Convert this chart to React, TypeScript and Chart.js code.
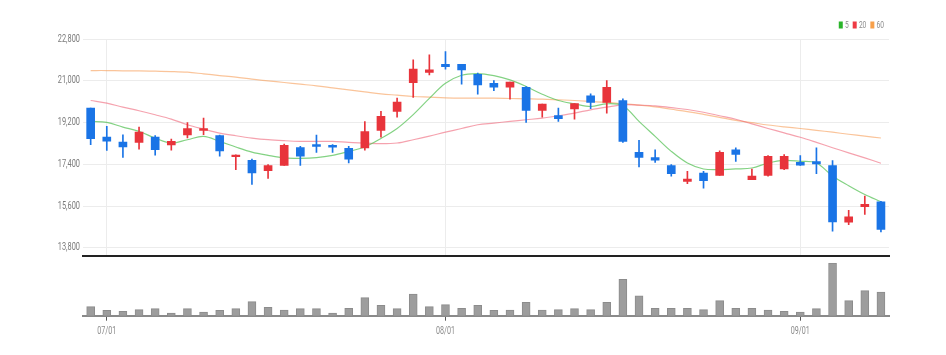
import React, { useEffect, useRef } from "react";
import { Chart, registerables } from "chart.js";
Chart.register(...registerables);

// ---- data ----
const dates = [
  "06/30",
  "07/01", "07/04", "07/05", "07/06", "07/07", "07/08", "07/11", "07/12", "07/13", "07/14", "07/15",
  "07/18", "07/19", "07/20", "07/21", "07/22", "07/25", "07/26", "07/27", "07/28", "07/29",
  "08/01", "08/02", "08/03", "08/04", "08/05", "08/08", "08/09", "08/10", "08/11", "08/12",
  "08/16", "08/17", "08/18", "08/19", "08/22", "08/23", "08/24", "08/25", "08/26", "08/29", "08/30", "08/31",
  "09/01", "09/02", "09/05", "09/06", "09/07", "09/08",
];
const opens = [
  19830, 18580, 18360, 18350, 18580, 18240, 18670, 18870, 18640, 17730,
  17580, 17130, 17360, 18130, 18260, 18220, 18090, 18110, 18870, 19690,
  20930, 21370, 21720, 21720, 21290, 20900, 20730, 20730, 19730, 19510,
  19790, 20360, 20070, 20150, 17920, 17690, 17350, 16670, 17030, 16920,
  18030, 16740, 16920, 17200, 17490, 17520, 17350, 14910, 15570, 15780,
];
const highs = [
  19830, 19040, 18680, 19010, 18640, 18490, 19210, 19400, 18660, 17810,
  17630, 17390, 18280, 18180, 18670, 18250, 18180, 19250, 19690, 20260,
  21910, 22130, 22270, 21720, 21340, 21020, 20950, 20760, 20000, 19830,
  20020, 20450, 21020, 20230, 18440, 18030, 17390, 17100, 17100, 17990,
  18110, 17200, 17780, 17820, 17780, 18110, 17560, 15420, 16030, 15810,
];
const lows = [
  18250, 18000, 17700, 18060, 17800, 18010, 18540, 18680, 17750, 17170,
  16530, 16790, 17360, 17360, 17920, 17920, 17460, 18010, 18570, 19440,
  20290, 21260, 21510, 20860, 20430, 20580, 20220, 19210, 19440, 19250,
  19350, 19800, 19610, 18350, 17290, 17490, 16890, 16570, 16370, 16920,
  17530, 16740, 16890, 17170, 17350, 17000, 14520, 14800, 15240, 14480,
];
const closes = [
  18510, 18400, 18150, 18800, 18030, 18390, 18950, 18950, 17980, 17800,
  17030, 17350, 18220, 17750, 18180, 18140, 17630, 18820, 19470, 20090,
  21510, 21480, 21620, 21480, 20830, 20730, 20950, 19730, 20000, 19370,
  20020, 20070, 20730, 18390, 17700, 17580, 17000, 16770, 16700, 17920,
  17830, 16890, 17750, 17750, 17370, 17420, 14920, 15140, 15680, 14590,
];
const volumes = [
  90000, 54000, 44000, 60000, 70000, 27000, 70000, 37000, 54000, 70000,
  140000, 84000, 57000, 70000, 70000, 27000, 74000, 180000, 104000, 70000,
  217000, 90000, 110000, 74000, 104000, 54000, 57000, 134000, 57000, 60000,
  70000, 60000, 134000, 364000, 198000, 74000, 74000, 74000, 60000, 150000,
  74000, 74000, 57000, 44000, 37000, 70000, 527000, 150000, 250000, 237000,
];
const ma5 = [
  19255, 19211, 19011, 18824, 18537, 18322, 18465, 18609, 18393, 18149,
  17930, 17790, 17680, 17660, 17690, 17790, 17960, 18150, 18520, 18950,
  19550, 20250, 20900, 21250, 21320, 21230, 21049, 20762, 20430, 20159,
  20016, 19900, 20016, 19930, 19255, 18609, 17963, 17460, 17202, 17173,
  17202, 17245, 17460, 17575, 17532, 17460, 16900, 16480, 16100, 15790,
];
const ma20 = [
  20159, 20044, 19872, 19714, 19542, 19355, 19111, 18924, 18752, 18637,
  18537, 18465, 18422, 18393, 18393, 18393, 18350, 18322, 18293, 18322,
  18465, 18620, 18790, 18950, 19111, 19183, 19255, 19326, 19398, 19499,
  19613, 19757, 19872, 19972, 19958, 19930, 19850, 19770, 19650, 19500,
  19350, 19150, 18950, 18760, 18570, 18350, 18120, 17900, 17680, 17450,
];
const ma60 = [
  21451, 21451, 21436, 21436, 21422, 21408, 21379, 21307, 21235, 21164,
  21078, 21006, 20934, 20862, 20790, 20704, 20618, 20532, 20446, 20388,
  20331, 20302, 20274, 20259, 20259, 20259, 20245, 20231, 20216, 20188,
  20159, 20116, 20073, 20016, 19958, 19880, 19780, 19680, 19560, 19430,
  19300, 19200, 19100, 19020, 18950, 18870, 18790, 18700, 18620, 18540,
];
const priceTicks = [13800, 15600, 17400, 19200, 21000, 22800];
const priceMin = 13458;
const priceMax = 22800;
const volumeMax = 530000;
const maNames = ["5", "20", "60"];

// ---- styles ----
const UP = "#e8343b";
const DOWN = "#1a74e6";
const FONT = "Roboto, 'Liberation Sans', sans-serif";
const LEGEND_COLORS = ["#2bb52b", "#ee3a44", "#f7a04b"];
const LINE_COLORS = ["rgba(90,195,90,0.75)", "rgba(238,100,120,0.6)", "rgba(247,165,100,0.65)"];
const Y_WIDTH = 74.6;
const RIGHT_PAD = 49;

const isMonthStart = (i: number) =>
  i > 0 && i < dates.length && dates[i].slice(0, 2) !== dates[i - 1].slice(0, 2);

// draws narrow (horizontally condensed) text, like the reference's condensed face
const narrowText = (ctx: any, text: string, x: number, y: number, sx: number, align: string) => {
  ctx.save();
  ctx.translate(x, y);
  ctx.scale(sx, 1);
  ctx.textAlign = align;
  ctx.textBaseline = "middle";
  ctx.fillText(text, 0, 0);
  ctx.restore();
};

const priceLabelsPlugin = {
  id: "priceLabels",
  afterDraw(chart: any) {
    const ctx = chart.ctx;
    const ys = chart.scales.y;
    ctx.save();
    ctx.font = `10px ${FONT}`;
    ctx.fillStyle = "#7a7a7a";
    priceTicks.forEach((v) => {
      narrowText(ctx, v.toLocaleString("en-US"), ys.right - 2.6, ys.getPixelForValue(v), 0.74, "right");
    });
    // legend
    ctx.font = `8.5px ${FONT}`;
    const sx = 0.78;
    const boxW = 4, boxH = 7, gapText = 2.2, gapItem = 4;
    const widths = maNames.map((n) => ctx.measureText(n).width * sx);
    let total = 0;
    widths.forEach((w, i) => { total += boxW + gapText + w + (i < widths.length - 1 ? gapItem : 0); });
    let x = 876 - total;
    const cy = 17;
    maNames.forEach((n, i) => {
      ctx.fillStyle = LEGEND_COLORS[i];
      ctx.fillRect(x, cy - boxH / 2, boxW, boxH);
      x += boxW + gapText;
      ctx.fillStyle = "#8a8a8a";
      narrowText(ctx, n, x, cy + 0.5, sx, "left");
      x += widths[i] + gapItem;
    });
    ctx.restore();
  },
};

const dateLabelsPlugin = {
  id: "dateLabels",
  afterDraw(chart: any) {
    const ctx = chart.ctx;
    const xs = chart.scales.x;
    ctx.save();
    ctx.font = `10.5px ${FONT}`;
    ctx.fillStyle = "#8a8a8a";
    dates.forEach((d, i) => {
      if (isMonthStart(i)) {
        narrowText(ctx, d, xs.getPixelForValue(i), chart.chartArea.bottom + 16, 0.68, "center");
      }
    });
    ctx.restore();
  },
};

export default function App() {
  const priceRef = useRef<HTMLCanvasElement>(null);
  const volRef = useRef<HTMLCanvasElement>(null);

  useEffect(() => {
    const bodies = opens.map((o, i) => [Math.min(o, closes[i]), Math.max(o, closes[i])]);
    const wicks = lows.map((l, i) => [l, highs[i]]);
    const candleColor = (c: any) => (closes[c.dataIndex] >= opens[c.dataIndex] ? UP : DOWN);
    const maLine = (i: number, data: number[]) => ({
      type: "line",
      label: maNames[i],
      data,
      borderColor: LINE_COLORS[i],
      backgroundColor: LEGEND_COLORS[i],
      borderWidth: 1.2,
      pointRadius: 0,
      tension: 0.35,
      order: 2 + i,
    });

    const priceChart = new Chart(priceRef.current as HTMLCanvasElement, {
      type: "bar",
      data: {
        labels: dates,
        datasets: [
          {
            type: "bar",
            label: "body",
            data: bodies as any,
            backgroundColor: candleColor,
            borderWidth: 0,
            barThickness: 8,
            grouped: false,
            order: 0,
          } as any,
          {
            type: "bar",
            label: "wick",
            data: wicks as any,
            backgroundColor: candleColor,
            borderWidth: 0,
            barThickness: 1,
            grouped: false,
            order: 1,
          } as any,
          maLine(0, ma5) as any,
          maLine(1, ma20) as any,
          maLine(2, ma60) as any,
        ],
      },
      options: {
        responsive: false,
        animation: false,
        events: [],
        layout: { autoPadding: false, padding: { top: 31.3, right: RIGHT_PAD, bottom: 6.3, left: 0 } },
        plugins: { legend: { display: false }, tooltip: { enabled: false } },
        scales: {
          x: {
            type: "category",
            offset: true,
            ticks: { display: false, autoSkip: false },
            grid: {
              offset: false,
              drawTicks: false,
              color: (c: any) => (isMonthStart(c.index) ? "#ececec" : "rgba(0,0,0,0)"),
            },
            border: { display: true, color: "#222", width: 2 },
          },
          y: {
            min: priceMin,
            max: priceMax,
            afterBuildTicks: (s: any) => {
              s.ticks = priceTicks.map((v) => ({ value: v }));
            },
            afterFit: (s: any) => {
              s.width = Y_WIDTH;
            },
            ticks: { display: false },
            grid: { drawTicks: false, color: "#ececec" },
            border: { display: false },
          },
        },
      } as any,
      plugins: [priceLabelsPlugin],
    });

    const volChart = new Chart(volRef.current as HTMLCanvasElement, {
      type: "bar",
      data: {
        labels: dates,
        datasets: [
          {
            label: "volume",
            data: volumes,
            backgroundColor: "#9d9d9d",
            borderColor: "#8c8c8c",
            borderWidth: 1,
            barThickness: 8,
          },
        ],
      },
      options: {
        responsive: false,
        animation: false,
        events: [],
        layout: { autoPadding: false, padding: { top: 0.7, right: RIGHT_PAD, bottom: 27.3, left: Y_WIDTH } },
        plugins: { legend: { display: false }, tooltip: { enabled: false } },
        scales: {
          x: {
            type: "category",
            offset: true,
            ticks: { display: false, autoSkip: false },
            grid: {
              offset: false,
              drawOnChartArea: false,
              drawTicks: true,
              tickLength: 5,
              tickColor: (c: any) => (isMonthStart(c.index) ? "#555" : "rgba(0,0,0,0)"),
            },
            border: { display: true, color: "#8a8a8a", width: 2 },
          },
          y: { display: false, min: 0, max: volumeMax },
        },
      } as any,
      plugins: [dateLabelsPlugin],
    });

    return () => {
      priceChart.destroy();
      volChart.destroy();
    };
  }, []);

  return (
    <div style={{ width: 930 }}>
      <canvas ref={priceRef} width={930} height={254} style={{ display: "block" }} />
      <canvas ref={volRef} width={930} height={86} style={{ display: "block" }} />
    </div>
  );
}
